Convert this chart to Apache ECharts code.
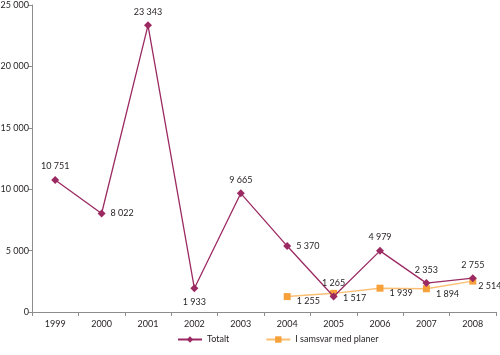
<!DOCTYPE html>
<html><head><meta charset="utf-8">
<script src="https://cdn.jsdelivr.net/npm/echarts@6/dist/echarts.min.js"></script>
<style>html,body{margin:0;padding:0;background:#fff}#c{width:500px;height:355px}</style>
</head><body><div id="c"></div>
<script>
const categories = ['1999','2000','2001','2002','2003','2004','2005','2006','2007','2008'];
const totalt = [10751, 8022, 23343, 1933, 9665, 5370, 1265, 4979, 2353, 2755];
const samsvar = [null, null, null, null, null, 1255, 1517, 1939, 1894, 2514];
const totaltLabelPos = ['top','right','top','bottom','top','right','top','top','top','top'];
const samsvarLabelPos = [null,null,null,null,null,'right','right','right','right','right'];
const yTicks = [0, 5000, 10000, 15000, 20000, 25000];

function fmt(v){ return String(v).replace(/\B(?=(\d{3})+(?!\d))/g, ' '); }
const font = 'Lato, Open Sans, sans-serif';
const txt = '#231f20';
const fs = 9;

const chart = echarts.init(document.getElementById('c'));
chart.setOption({
  animation: false,
  textStyle: {fontFamily: font},
  grid: {left: 32, right: 4, top: 5, bottom: 43, containLabel: false, outerBoundsMode: 'none'},
  legend: {
    bottom: 6, left: 172, itemGap: 36, itemWidth: 24, itemHeight: 8,
    textStyle: {fontSize: fs, color: txt, fontFamily: font},
    data: ['Totalt', 'I samsvar med planer']
  },
  xAxis: {
    type: 'category', data: categories, boundaryGap: true,
    axisLine: {lineStyle: {color: '#8c8c8c'}},
    axisTick: {show: true, inside: false, length: 4, lineStyle: {color: '#8c8c8c'}},
    axisLabel: {fontSize: fs, color: txt, margin: 8, fontFamily: font}
  },
  yAxis: {
    type: 'value', min: yTicks[0], max: yTicks[yTicks.length-1], interval: 5000,
    splitLine: {show: false},
    axisLine: {show: true, lineStyle: {color: '#8c8c8c'}},
    axisTick: {show: true, length: 4, lineStyle: {color: '#8c8c8c'}},
    axisLabel: {fontSize: fs, color: txt, margin: 3, formatter: v => fmt(v), fontFamily: font}
  },
  series: [
    {
      name: 'Totalt', type: 'line', symbol: 'diamond', symbolSize: 8,
      data: totalt.map((v,i) => ({value: v, label: {position: totaltLabelPos[i]}})),
      lineStyle: {color: '#9b2a62', width: 1.3},
      itemStyle: {color: '#9b2a62'},
      label: {show: true, fontSize: fs, color: txt, distance: 5, formatter: p => fmt(p.value), fontFamily: font},
      z: 3
    },
    {
      name: 'I samsvar med planer', type: 'line', symbol: 'rect', symbolSize: 7,
      data: samsvar.map((v,i) => v == null ? null : ({value: v, label: {position: samsvarLabelPos[i], offset: [0, 5], distance: i === 9 ? 2 : 6}})),
      lineStyle: {color: '#fbbf74', width: 1.5},
      itemStyle: {color: '#f7a13b'},
      label: {show: true, fontSize: fs, color: txt, distance: 6, formatter: p => fmt(p.value), fontFamily: font},
      z: 2
    }
  ]
});
</script></body></html>
